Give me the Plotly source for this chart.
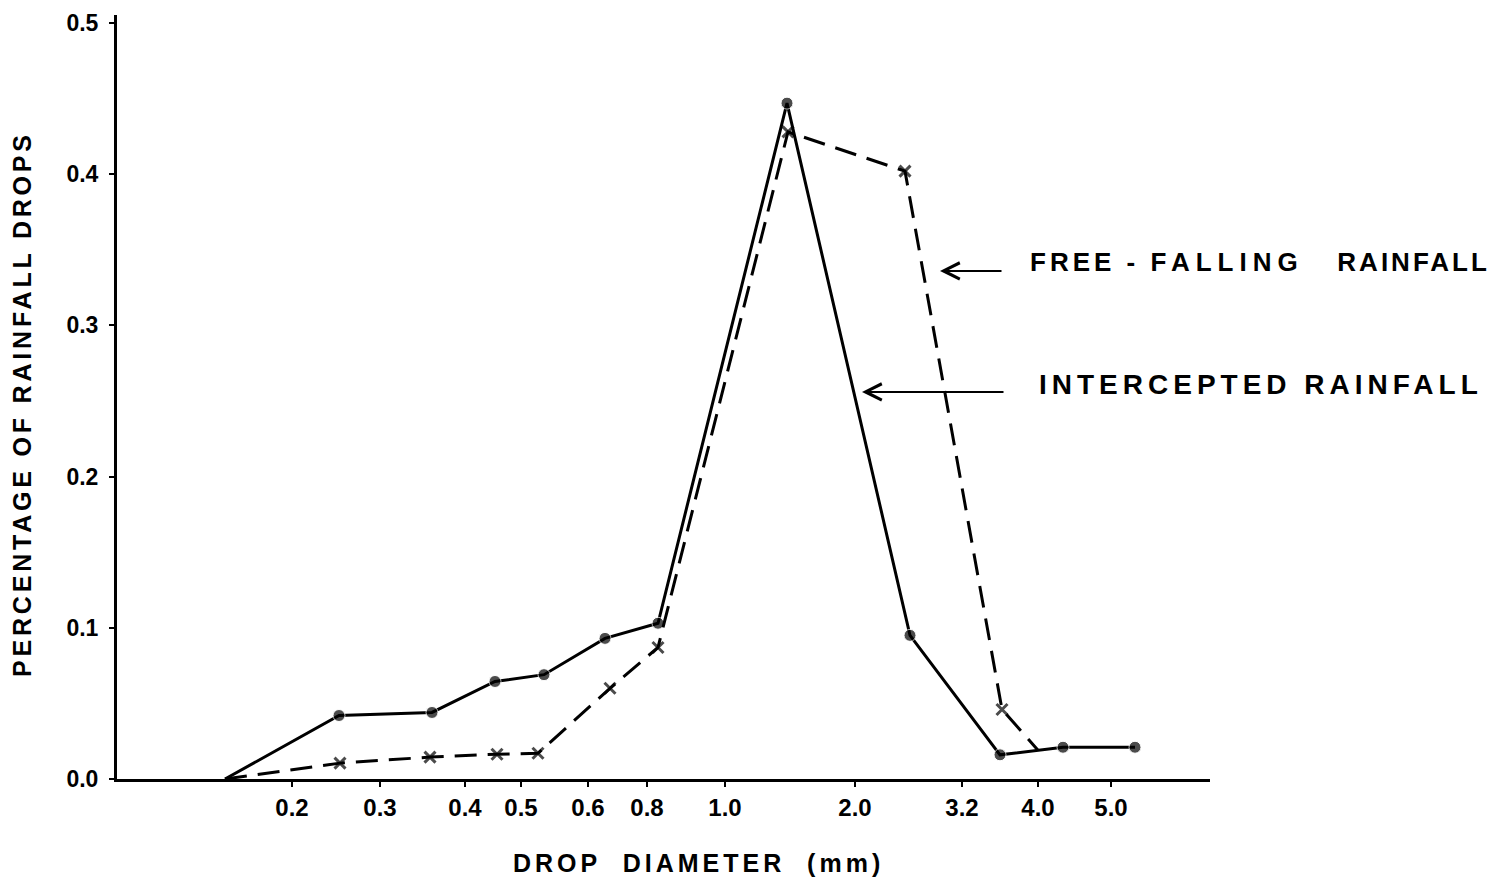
import plotly.graph_objects as go

# Axis positions (arbitrary linear units along the non-uniform diameter scale)
tick_pos = [17.5, 26.3, 34.8, 40.4, 47.1, 53.0, 60.8, 73.8, 84.5, 92.1, 99.4]
tick_labels = ["0.2", "0.3", "0.4", "0.5", "0.6", "0.8", "1.0", "2.0", "3.2", "4.0", "5.0"]

# Intercepted rainfall (solid line, dots)
intercepted_x = [10.8, 22.2, 31.5, 37.8, 42.7, 48.8, 54.1, 67.0, 79.3, 88.3, 94.6, 101.8]
intercepted_y = [0.0, 0.042, 0.044, 0.0645, 0.069, 0.093, 0.103, 0.447, 0.095, 0.016, 0.021, 0.021]

# Free-falling rainfall (dashed line, crosses)
free_x = [10.8, 22.3, 31.3, 38.0, 42.1, 49.3, 54.1, 67.1, 78.8, 88.5, 92.1]
free_y = [0.0, 0.0105, 0.0145, 0.0164, 0.017, 0.060, 0.087, 0.428, 0.402, 0.046, 0.019]

y_ticks = [0.0, 0.1, 0.2, 0.3, 0.4, 0.5]
y_tick_labels = ["0.0", "0.1", "0.2", "0.3", "0.4", "0.5"]

FONT = "Liberation Sans, Arial, Helvetica, sans-serif"
OFF = 8  # page body offset

def spaced(s, px):
    return f'<span style="letter-spacing:{px}px"><b>{s}</b></span>'

fig = go.Figure()

fig.add_trace(go.Scatter(
    x=intercepted_x, y=intercepted_y, mode="lines+markers",
    line=dict(color="black", width=3),
    marker=dict(symbol="circle", color="black",
                size=[0] + [12] * (len(intercepted_x) - 1)),
    showlegend=False, cliponaxis=False,
))

fig.add_trace(go.Scatter(
    x=free_x, y=free_y, mode="lines+markers",
    line=dict(color="black", width=3, dash="22px,11px"),
    marker=dict(symbol="x-thin", color="black", line=dict(color="black", width=3),
                size=[0] + [11] * (len(free_x) - 2) + [0]),
    showlegend=False, cliponaxis=False,
))

# Arrows
fig.add_annotation(x=82.3, y=0.336, ax=88.6, ay=0.336, xref="x", yref="y",
                   axref="x", ayref="y", text="", showarrow=True,
                   arrowhead=5, arrowsize=1.6, arrowwidth=2, arrowcolor="black")
fig.add_annotation(x=74.5, y=0.256, ax=88.8, ay=0.256, xref="x", yref="y",
                   axref="x", ayref="y", text="", showarrow=True,
                   arrowhead=5, arrowsize=1.6, arrowwidth=2, arrowcolor="black")

# Labels
free_label = (spaced("FREE - ", 4) + spaced("FALLING", 6) + spaced("   ", 4)
              + spaced("RAINFALL", 3))
fig.add_annotation(x=91.1, y=0.342, xref="x", yref="y", xanchor="left", yanchor="middle",
                   text=free_label, showarrow=False,
                   font=dict(family=FONT, size=26, color="black"))
fig.add_annotation(x=92.0, y=0.261, xref="x", yref="y", xanchor="left", yanchor="middle",
                   text=spaced("INTERCEPTED RAINFALL", 5), showarrow=False,
                   font=dict(family=FONT, size=28, color="black"))

PW = 1093
PH = 764
# Axis titles
fig.add_annotation(x=(22 - 117) / PW, y=(779 - 404) / PH, xref="paper", yref="paper",
                   xanchor="center", yanchor="middle", textangle=-90,
                   text=spaced("PERCENTAGE OF RAINFALL DROPS", 3.8), showarrow=False,
                   font=dict(family=FONT, size=25, color="black"))
fig.add_annotation(x=(698 - 117) / PW, y=(779 - 863) / PH, xref="paper", yref="paper",
                   xanchor="center", yanchor="middle",
                   text=spaced("DROP  DIAMETER  (mm)", 4), showarrow=False,
                   font=dict(family=FONT, size=25, color="black"))

fig.update_layout(
    width=1498 - OFF, height=888 - OFF,
    margin=dict(l=117 - OFF, r=288, t=15 - OFF, b=109),
    paper_bgcolor="white", plot_bgcolor="white",
    xaxis=dict(range=[0, 109.3], tickmode="array", tickvals=tick_pos,
               ticktext=[f"<b>{t}</b>" for t in tick_labels],
               showgrid=False, zeroline=False, showline=True, linecolor="black", linewidth=3,
               ticks="outside", ticklen=5, tickwidth=2, tickcolor="black",
               ticklabeloverflow="allow",
               tickfont=dict(family=FONT, size=24, color="black"), automargin=False),
    yaxis=dict(range=[0, 0.50529], tickmode="array", tickvals=y_ticks,
               ticktext=[f"<b>{t}</b>" for t in y_tick_labels],
               showgrid=False, zeroline=False, showline=True, linecolor="black", linewidth=3,
               ticks="outside", ticklen=5, tickwidth=2, tickcolor="black",
               ticklabeloverflow="allow", ticklabelstandoff=6,
               tickfont=dict(family=FONT, size=23, color="black"), automargin=False),
)

fig.write_html("out.html")
